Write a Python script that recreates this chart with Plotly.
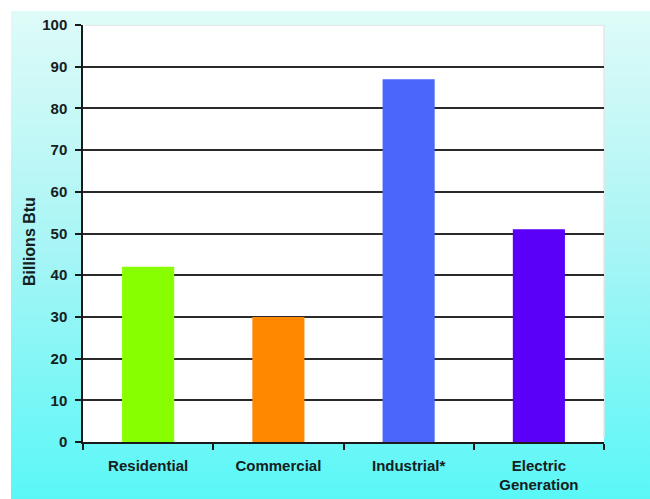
import base64
import plotly.graph_objects as go

categories = ["Residential", "Commercial", "Industrial*", "Electric<br>Generation"]
values = [42, 30, 87, 51]
bar_colors = ["#88ff00", "#ff8800", "#4a66fb", "#5a00f8"]
y_ticks = [0, 10, 20, 30, 40, 50, 60, 70, 80, 90, 100]
y_title = "Billions Btu"

W, H = 650, 499

svg = (
    '<svg xmlns="http://www.w3.org/2000/svg" width="100" height="100" preserveAspectRatio="none">'
    '<defs><linearGradient id="g" x1="0" y1="0" x2="0" y2="1">'
    '<stop offset="0" stop-color="#dffbf8"/>'
    '<stop offset="0.5" stop-color="#a6f5f5"/>'
    '<stop offset="1" stop-color="#5af7f7"/>'
    '</linearGradient></defs>'
    '<rect x="0" y="0" width="100" height="100" fill="url(#g)"/></svg>'
)
svg_uri = "data:image/svg+xml;base64," + base64.b64encode(svg.encode()).decode()

ml, mr, mt, mb = 83, 46, 25, 57
pw = W - ml - mr
ph = H - mt - mb

def px_to_paper_x(px):
    return (px - ml) / pw

def px_to_paper_y(py):
    return (H - mb - py) / ph

FONT = "Liberation Sans, Arial, sans-serif"

fig = go.Figure()
fig.add_trace(go.Bar(
    x=categories, y=values,
    marker=dict(color=bar_colors, line=dict(width=0)),
    width=0.4,
    hoverinfo="x+y",
))

fig.update_layout(
    width=W, height=H,
    margin=dict(l=ml, r=mr, t=mt, b=mb, pad=0),
    paper_bgcolor="white",
    plot_bgcolor="white",
    showlegend=False,
    font=dict(family=FONT, size=14, color="#152020"),
    images=[dict(
        source=svg_uri, xref="paper", yref="paper",
        x=px_to_paper_x(11), y=px_to_paper_y(11),
        sizex=px_to_paper_x(W) - px_to_paper_x(11),
        sizey=px_to_paper_y(11) - px_to_paper_y(H),
        xanchor="left", yanchor="top", sizing="stretch", layer="below",
    )],
    shapes=[
        dict(type="rect", xref="paper", yref="paper", x0=0, x1=1, y0=0, y1=1,
             fillcolor="white", line=dict(width=0), layer="below"),
        dict(type="line", xref="paper", yref="y", x0=0.003, x1=1, y0=100, y1=100,
             line=dict(color="#e6e6e6", width=2), layer="above"),
        dict(type="line", xref="paper", yref="paper", x0=1, x1=1, y0=0.01, y1=1,
             line=dict(color="#e6e6e6", width=1.5), layer="below"),
    ],
    annotations=[dict(
        text="<b>" + y_title + "</b>", xref="paper", yref="paper",
        x=px_to_paper_x(29), y=px_to_paper_y(242), xanchor="center", yanchor="middle",
        textangle=-90, showarrow=False, font=dict(family=FONT, size=16, color="#152020"),
    )],
)

fig.update_yaxes(
    range=[0, 100], tickvals=y_ticks, showgrid=True, gridcolor="#2a2a2a", gridwidth=1.5,
    zeroline=False, showline=True, linecolor="#1a1a1a", linewidth=1.5,
    ticks="outside", ticklen=6, tickcolor="#1a1a1a", tickwidth=1.5,
    ticklabelstandoff=5, automargin=False,
    tickfont=dict(family=FONT, size=15, color="#152020", weight="bold"),
)
fig.update_xaxes(
    showline=True, linecolor="#1a1a1a", linewidth=1.5,
    ticks="outside", ticklen=6, tickcolor="#1a1a1a", tickwidth=1.5, tickson="boundaries",
    ticklabelstandoff=9, automargin=False,
    tickfont=dict(family=FONT, size=15, color="#152020", weight="bold"),
    showgrid=False,
)

fig.write_html("out.html")
